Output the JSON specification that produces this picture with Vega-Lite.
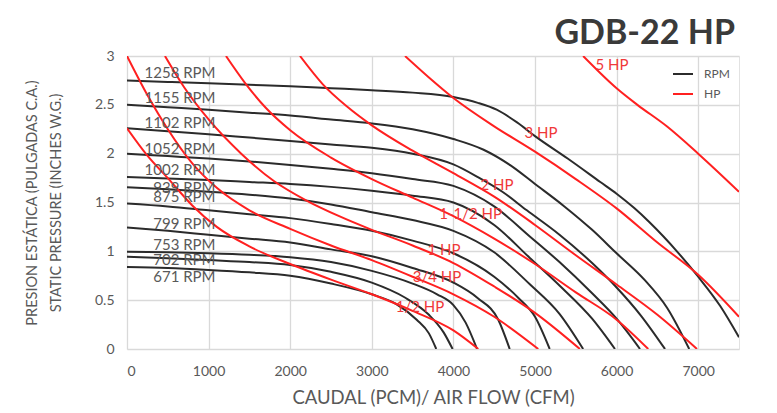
{
"$schema":"https://vega.github.io/schema/vega-lite/v6.json",
"width":612,"height":293,
"autosize":{"type":"none"},
"padding":{"left":127,"top":56,"right":38,"bottom":64},
"background":"white",
"config":{"font":"Lato","view":{"stroke":"#e2e2e2","strokeWidth":1}},
"title":{"text":"GDB-22 HP","anchor":"end","frame":"group","fontSize":34,"fontWeight":"bold","font":"Lato","color":"#3a3a3a","offset":-2,"dx":-4},
"datasets":{
"curves":[
{"c":"1258","k":"RPM","x":0,"y":2.75},{"c":"1258","k":"RPM","x":500,"y":2.735},{"c":"1258","k":"RPM","x":1000,"y":2.72},{"c":"1258","k":"RPM","x":1500,"y":2.705},{"c":"1258","k":"RPM","x":2000,"y":2.69},{"c":"1258","k":"RPM","x":2500,"y":2.67},{"c":"1258","k":"RPM","x":3000,"y":2.65},{"c":"1258","k":"RPM","x":3500,"y":2.625},{"c":"1258","k":"RPM","x":4000,"y":2.58},{"c":"1258","k":"RPM","x":4300,"y":2.52},{"c":"1258","k":"RPM","x":4530,"y":2.45},{"c":"1258","k":"RPM","x":4780,"y":2.32},{"c":"1258","k":"RPM","x":5000,"y":2.18},{"c":"1258","k":"RPM","x":5400,"y":1.95},{"c":"1258","k":"RPM","x":5800,"y":1.71},{"c":"1258","k":"RPM","x":6000,"y":1.59},{"c":"1258","k":"RPM","x":6220,"y":1.44},{"c":"1258","k":"RPM","x":6400,"y":1.3},{"c":"1258","k":"RPM","x":6750,"y":0.99},{"c":"1258","k":"RPM","x":7000,"y":0.74},{"c":"1258","k":"RPM","x":7270,"y":0.44},{"c":"1258","k":"RPM","x":7500,"y":0.12},
{"c":"1155","k":"RPM","x":0,"y":2.5},{"c":"1155","k":"RPM","x":500,"y":2.475},{"c":"1155","k":"RPM","x":1000,"y":2.45},{"c":"1155","k":"RPM","x":1500,"y":2.42},{"c":"1155","k":"RPM","x":2000,"y":2.39},{"c":"1155","k":"RPM","x":2500,"y":2.35},{"c":"1155","k":"RPM","x":3000,"y":2.31},{"c":"1155","k":"RPM","x":3500,"y":2.25},{"c":"1155","k":"RPM","x":4000,"y":2.15},{"c":"1155","k":"RPM","x":4370,"y":2.04},{"c":"1155","k":"RPM","x":4700,"y":1.88},{"c":"1155","k":"RPM","x":5000,"y":1.69},{"c":"1155","k":"RPM","x":5360,"y":1.46},{"c":"1155","k":"RPM","x":5700,"y":1.22},{"c":"1155","k":"RPM","x":6000,"y":0.98},{"c":"1155","k":"RPM","x":6340,"y":0.71},{"c":"1155","k":"RPM","x":6620,"y":0.42},{"c":"1155","k":"RPM","x":6890,"y":0},
{"c":"1102","k":"RPM","x":0,"y":2.26},{"c":"1102","k":"RPM","x":500,"y":2.23},{"c":"1102","k":"RPM","x":1000,"y":2.2},{"c":"1102","k":"RPM","x":1500,"y":2.165},{"c":"1102","k":"RPM","x":2000,"y":2.13},{"c":"1102","k":"RPM","x":2500,"y":2.095},{"c":"1102","k":"RPM","x":3000,"y":2.06},{"c":"1102","k":"RPM","x":3500,"y":2.0},{"c":"1102","k":"RPM","x":4000,"y":1.89},{"c":"1102","k":"RPM","x":4300,"y":1.76},{"c":"1102","k":"RPM","x":4600,"y":1.61},{"c":"1102","k":"RPM","x":4900,"y":1.42},{"c":"1102","k":"RPM","x":5300,"y":1.17},{"c":"1102","k":"RPM","x":5700,"y":0.88},{"c":"1102","k":"RPM","x":6000,"y":0.63},{"c":"1102","k":"RPM","x":6300,"y":0.34},{"c":"1102","k":"RPM","x":6593,"y":0},
{"c":"1052","k":"RPM","x":0,"y":2.0},{"c":"1052","k":"RPM","x":500,"y":1.975},{"c":"1052","k":"RPM","x":1000,"y":1.95},{"c":"1052","k":"RPM","x":1500,"y":1.92},{"c":"1052","k":"RPM","x":2000,"y":1.885},{"c":"1052","k":"RPM","x":2500,"y":1.845},{"c":"1052","k":"RPM","x":3000,"y":1.8},{"c":"1052","k":"RPM","x":3500,"y":1.74},{"c":"1052","k":"RPM","x":4000,"y":1.67},{"c":"1052","k":"RPM","x":4500,"y":1.46},{"c":"1052","k":"RPM","x":4940,"y":1.15},{"c":"1052","k":"RPM","x":5300,"y":0.89},{"c":"1052","k":"RPM","x":5700,"y":0.57},{"c":"1052","k":"RPM","x":6000,"y":0.31},{"c":"1052","k":"RPM","x":6287,"y":0},
{"c":"1002","k":"RPM","x":0,"y":1.76},{"c":"1002","k":"RPM","x":500,"y":1.745},{"c":"1002","k":"RPM","x":1000,"y":1.73},{"c":"1002","k":"RPM","x":1500,"y":1.71},{"c":"1002","k":"RPM","x":2000,"y":1.69},{"c":"1002","k":"RPM","x":2500,"y":1.66},{"c":"1002","k":"RPM","x":3000,"y":1.62},{"c":"1002","k":"RPM","x":3500,"y":1.57},{"c":"1002","k":"RPM","x":4000,"y":1.5},{"c":"1002","k":"RPM","x":4500,"y":1.27},{"c":"1002","k":"RPM","x":4940,"y":0.93},{"c":"1002","k":"RPM","x":5300,"y":0.65},{"c":"1002","k":"RPM","x":5700,"y":0.31},{"c":"1002","k":"RPM","x":5980,"y":0},
{"c":"939","k":"RPM","x":0,"y":1.655},{"c":"939","k":"RPM","x":500,"y":1.635},{"c":"939","k":"RPM","x":1000,"y":1.61},{"c":"939","k":"RPM","x":1500,"y":1.58},{"c":"939","k":"RPM","x":2000,"y":1.54},{"c":"939","k":"RPM","x":2500,"y":1.48},{"c":"939","k":"RPM","x":3000,"y":1.4},{"c":"939","k":"RPM","x":3500,"y":1.32},{"c":"939","k":"RPM","x":4000,"y":1.21},{"c":"939","k":"RPM","x":4500,"y":0.99},{"c":"939","k":"RPM","x":4940,"y":0.66},{"c":"939","k":"RPM","x":5300,"y":0.36},{"c":"939","k":"RPM","x":5590,"y":0},
{"c":"875","k":"RPM","x":0,"y":1.49},{"c":"875","k":"RPM","x":500,"y":1.46},{"c":"875","k":"RPM","x":1000,"y":1.42},{"c":"875","k":"RPM","x":1500,"y":1.38},{"c":"875","k":"RPM","x":2000,"y":1.34},{"c":"875","k":"RPM","x":2500,"y":1.28},{"c":"875","k":"RPM","x":3000,"y":1.21},{"c":"875","k":"RPM","x":3500,"y":1.11},{"c":"875","k":"RPM","x":4000,"y":0.98},{"c":"875","k":"RPM","x":4500,"y":0.74},{"c":"875","k":"RPM","x":4800,"y":0.52},{"c":"875","k":"RPM","x":5000,"y":0.33},{"c":"875","k":"RPM","x":5180,"y":0},
{"c":"799","k":"RPM","x":0,"y":1.245},{"c":"799","k":"RPM","x":500,"y":1.21},{"c":"799","k":"RPM","x":1000,"y":1.17},{"c":"799","k":"RPM","x":1500,"y":1.13},{"c":"799","k":"RPM","x":2000,"y":1.09},{"c":"799","k":"RPM","x":2500,"y":1.02},{"c":"799","k":"RPM","x":3000,"y":0.95},{"c":"799","k":"RPM","x":3500,"y":0.83},{"c":"799","k":"RPM","x":4000,"y":0.68},{"c":"799","k":"RPM","x":4300,"y":0.52},{"c":"799","k":"RPM","x":4550,"y":0.3},{"c":"799","k":"RPM","x":4690,"y":0},
{"c":"753","k":"RPM","x":0,"y":0.995},{"c":"753","k":"RPM","x":500,"y":0.99},{"c":"753","k":"RPM","x":1000,"y":0.98},{"c":"753","k":"RPM","x":1500,"y":0.965},{"c":"753","k":"RPM","x":2000,"y":0.94},{"c":"753","k":"RPM","x":2500,"y":0.89},{"c":"753","k":"RPM","x":3000,"y":0.8},{"c":"753","k":"RPM","x":3500,"y":0.67},{"c":"753","k":"RPM","x":3800,"y":0.56},{"c":"753","k":"RPM","x":4000,"y":0.45},{"c":"753","k":"RPM","x":4150,"y":0.27},{"c":"753","k":"RPM","x":4290,"y":0},
{"c":"702","k":"RPM","x":0,"y":0.945},{"c":"702","k":"RPM","x":500,"y":0.93},{"c":"702","k":"RPM","x":1000,"y":0.91},{"c":"702","k":"RPM","x":1500,"y":0.89},{"c":"702","k":"RPM","x":2000,"y":0.86},{"c":"702","k":"RPM","x":2500,"y":0.79},{"c":"702","k":"RPM","x":3000,"y":0.68},{"c":"702","k":"RPM","x":3400,"y":0.53},{"c":"702","k":"RPM","x":3700,"y":0.35},{"c":"702","k":"RPM","x":3880,"y":0.17},{"c":"702","k":"RPM","x":3990,"y":0},
{"c":"671","k":"RPM","x":0,"y":0.84},{"c":"671","k":"RPM","x":500,"y":0.83},{"c":"671","k":"RPM","x":1000,"y":0.81},{"c":"671","k":"RPM","x":1500,"y":0.785},{"c":"671","k":"RPM","x":2000,"y":0.75},{"c":"671","k":"RPM","x":2500,"y":0.67},{"c":"671","k":"RPM","x":3000,"y":0.56},{"c":"671","k":"RPM","x":3300,"y":0.46},{"c":"671","k":"RPM","x":3550,"y":0.3},{"c":"671","k":"RPM","x":3700,"y":0.16},{"c":"671","k":"RPM","x":3790,"y":0},
{"c":"h05","k":"HP","x":0,"y":2.26},{"c":"h05","k":"HP","x":250,"y":1.98},{"c":"h05","k":"HP","x":500,"y":1.75},{"c":"h05","k":"HP","x":800,"y":1.47},{"c":"h05","k":"HP","x":1100,"y":1.25},{"c":"h05","k":"HP","x":1500,"y":1.05},{"c":"h05","k":"HP","x":2000,"y":0.87},{"c":"h05","k":"HP","x":2500,"y":0.71},{"c":"h05","k":"HP","x":3000,"y":0.56},{"c":"h05","k":"HP","x":3500,"y":0.39},{"c":"h05","k":"HP","x":4000,"y":0.19},{"c":"h05","k":"HP","x":4305,"y":0},
{"c":"h075","k":"HP","x":0,"y":3.0},{"c":"h075","k":"HP","x":250,"y":2.6},{"c":"h075","k":"HP","x":500,"y":2.25},{"c":"h075","k":"HP","x":800,"y":1.9},{"c":"h075","k":"HP","x":1100,"y":1.65},{"c":"h075","k":"HP","x":1500,"y":1.42},{"c":"h075","k":"HP","x":2000,"y":1.23},{"c":"h075","k":"HP","x":2500,"y":1.06},{"c":"h075","k":"HP","x":3000,"y":0.91},{"c":"h075","k":"HP","x":3500,"y":0.74},{"c":"h075","k":"HP","x":4000,"y":0.56},{"c":"h075","k":"HP","x":4500,"y":0.33},{"c":"h075","k":"HP","x":5040,"y":0},
{"c":"h1","k":"HP","x":465,"y":3.0},{"c":"h1","k":"HP","x":700,"y":2.68},{"c":"h1","k":"HP","x":1000,"y":2.35},{"c":"h1","k":"HP","x":1400,"y":2.0},{"c":"h1","k":"HP","x":1800,"y":1.72},{"c":"h1","k":"HP","x":2200,"y":1.52},{"c":"h1","k":"HP","x":2600,"y":1.36},{"c":"h1","k":"HP","x":3000,"y":1.22},{"c":"h1","k":"HP","x":3500,"y":1.06},{"c":"h1","k":"HP","x":4000,"y":0.88},{"c":"h1","k":"HP","x":4500,"y":0.64},{"c":"h1","k":"HP","x":5000,"y":0.37},{"c":"h1","k":"HP","x":5550,"y":0},
{"c":"h15","k":"HP","x":1213,"y":3.0},{"c":"h15","k":"HP","x":1450,"y":2.72},{"c":"h15","k":"HP","x":1700,"y":2.47},{"c":"h15","k":"HP","x":2000,"y":2.24},{"c":"h15","k":"HP","x":2500,"y":1.96},{"c":"h15","k":"HP","x":3000,"y":1.74},{"c":"h15","k":"HP","x":3500,"y":1.55},{"c":"h15","k":"HP","x":4000,"y":1.36},{"c":"h15","k":"HP","x":4500,"y":1.13},{"c":"h15","k":"HP","x":5000,"y":0.87},{"c":"h15","k":"HP","x":5500,"y":0.58},{"c":"h15","k":"HP","x":6000,"y":0.3},{"c":"h15","k":"HP","x":6388,"y":0},
{"c":"h2","k":"HP","x":2120,"y":3.0},{"c":"h2","k":"HP","x":2400,"y":2.71},{"c":"h2","k":"HP","x":2700,"y":2.48},{"c":"h2","k":"HP","x":3000,"y":2.29},{"c":"h2","k":"HP","x":3500,"y":2.03},{"c":"h2","k":"HP","x":4000,"y":1.8},{"c":"h2","k":"HP","x":4500,"y":1.56},{"c":"h2","k":"HP","x":5000,"y":1.27},{"c":"h2","k":"HP","x":5500,"y":0.96},{"c":"h2","k":"HP","x":6000,"y":0.66},{"c":"h2","k":"HP","x":6500,"y":0.35},{"c":"h2","k":"HP","x":6985,"y":0},
{"c":"h3","k":"HP","x":3407,"y":3.0},{"c":"h3","k":"HP","x":3700,"y":2.78},{"c":"h3","k":"HP","x":4000,"y":2.57},{"c":"h3","k":"HP","x":4500,"y":2.28},{"c":"h3","k":"HP","x":5000,"y":2.02},{"c":"h3","k":"HP","x":5500,"y":1.74},{"c":"h3","k":"HP","x":6000,"y":1.44},{"c":"h3","k":"HP","x":6500,"y":1.09},{"c":"h3","k":"HP","x":7000,"y":0.76},{"c":"h3","k":"HP","x":7500,"y":0.33},
{"c":"h5","k":"HP","x":5590,"y":3.0},{"c":"h5","k":"HP","x":6000,"y":2.67},{"c":"h5","k":"HP","x":6255,"y":2.5},{"c":"h5","k":"HP","x":6615,"y":2.28},{"c":"h5","k":"HP","x":7000,"y":2.0},{"c":"h5","k":"HP","x":7500,"y":1.61}
],
"rpmLabels":[
{"t":"1258 RPM","x":1085,"y":2.825},{"t":"1155 RPM","x":1085,"y":2.574},{"t":"1102 RPM","x":1085,"y":2.31},{"t":"1052 RPM","x":1085,"y":2.049},{"t":"1002 RPM","x":1085,"y":1.837},{"t":"939 RPM","x":1085,"y":1.65},{"t":"875 RPM","x":1085,"y":1.559},{"t":"799 RPM","x":1085,"y":1.277},{"t":"753 RPM","x":1085,"y":1.066},{"t":"702 RPM","x":1085,"y":0.909},{"t":"671 RPM","x":1085,"y":0.739}
],
"hpLabels":[
{"t":"5 HP","x":5944,"y":2.907},{"t":"3 HP","x":5074,"y":2.21},{"t":"2 HP","x":4534,"y":1.68},{"t":"1-1/2 HP","x":4210,"y":1.38},{"t":"1 HP","x":3885,"y":1.01},{"t":"3/4 HP","x":3799,"y":0.74},{"t":"1/2 HP","x":3591,"y":0.43}
]
},
"layer":[
{"data":{"name":"curves"},
 "mark":{"type":"line","interpolate":"monotone","strokeWidth":2,"clip":true},
 "encoding":{
  "x":{"field":"x","type":"quantitative","scale":{"domain":[0,7500],"nice":false,"zero":false},
       "axis":{"title":"CAUDAL (PCM)/ AIR FLOW (CFM)","values":[0,1000,2000,3000,4000,5000,6000,7000],"format":"d","ticks":false,"domain":false,"grid":true,"gridColor":"#d9d9d9","gridWidth":1.3,"labelFontSize":14,"labelColor":"#595959","labelPadding":15,"titleFontSize":18.5,"titleColor":"#595959","titleFontWeight":"normal","titlePadding":10}},
  "y":{"field":"y","type":"quantitative","scale":{"domain":[0,3],"nice":false},
       "axis":{"title":["PRESION ESTÁTICA (PULGADAS C.A.)","STATIC PRESSURE (INCHES W.G.)"],"values":[0,0.5,1,1.5,2,2.5,3],"format":"~g","ticks":false,"domain":false,"grid":true,"gridColor":"#d9d9d9","gridWidth":1.3,"labelFontSize":14,"labelColor":"#595959","labelPadding":13,"titleFontSize":14.5,"titleColor":"#595959","titleFontWeight":"normal","titleLineHeight":24,"titleX":-94.5,"titleY":146.5,"titleAngle":-90,"titleAlign":"center","titleBaseline":"middle"}},
  "color":{"field":"k","type":"nominal","scale":{"domain":["RPM","HP"],"range":["#2b2b2b","#ff2020"]},
       "legend":{"title":null,"orient":"none","legendX":545,"legendY":7,"symbolType":"stroke","symbolSize":400,"symbolStrokeWidth":2,"labelFontSize":12,"labelColor":"#595959","labelOffset":10,"rowPadding":3,"padding":0}},
  "detail":{"field":"c","type":"nominal"}
 }},
{"data":{"name":"rpmLabels"},
 "mark":{"type":"text","align":"right","baseline":"middle","fontSize":15,"color":"#595959"},
 "encoding":{"x":{"field":"x","type":"quantitative"},"y":{"field":"y","type":"quantitative"},"text":{"field":"t"}}},
{"data":{"name":"hpLabels"},
 "mark":{"type":"text","align":"center","baseline":"middle","fontSize":15,"color":"#f03838"},
 "encoding":{"x":{"field":"x","type":"quantitative"},"y":{"field":"y","type":"quantitative"},"text":{"field":"t"}}}
]
}
